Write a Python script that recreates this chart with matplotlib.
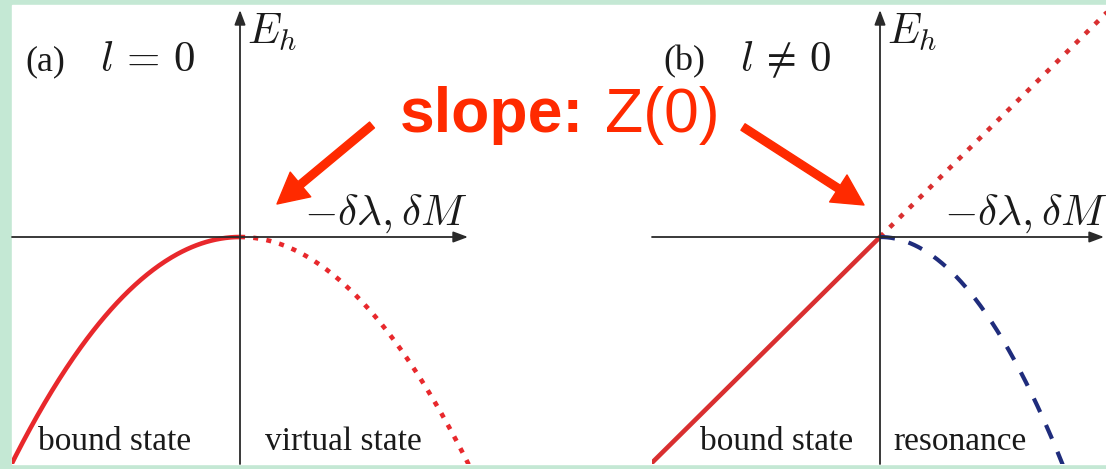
import numpy as np
import matplotlib.pyplot as plt
from matplotlib.patches import Rectangle

W, H = 1106, 469

# schematic curves, one unit = 100 px on the page
curv_l0 = 0.435        # E_h = -curv * x**2 for l = 0
slope_l1 = 0.99        # E_h = slope * x for l != 0
curv_res = 0.682       # resonance branch, E_h = -curv * x**2

panel_tags = ['(a)', '(b)']
panel_l = [r'$l\,=\,0$', r'$l\,\neq\,0$']
left_labels = ['bound state', 'bound state']
right_labels = ['virtual state', 'resonance']

red = '#e8282c'
red2 = '#d92f30'
navy = '#1f2c7c'
orange_red = '#ff2a00'
axis_col = '#2a2a2a'

plt.rcParams['mathtext.fontset'] = 'cm'

fig = plt.figure(figsize=(W / 100, H / 100), dpi=100, facecolor='#c4e8d4')
fig.patches.append(Rectangle((12 / W, (H - 464) / H), (W - 12) / W, (464 - 5) / H,
                             transform=fig.transFigure, color='white', zorder=-10))


def fx(px):
    return px / W


def fy(py):
    return 1 - py / H


def make_panel(left_px, right_px, origin_px):
    ax = fig.add_axes([fx(left_px), fy(464), (right_px - left_px) / W, (464 - 5) / H])
    ax.set_xlim((left_px - origin_px) / 100, (right_px - origin_px) / 100)
    ax.set_ylim(-2.27, 2.32)
    ax.axis('off')
    ax.patch.set_visible(False)
    return ax


def draw_axes(ax, x0, x1):
    ap = dict(arrowstyle='-|>,head_length=0.8,head_width=0.3', mutation_scale=11,
              lw=1.3, color=axis_col, shrinkA=0, shrinkB=0)
    ax.annotate('', xy=(x1, 0), xytext=(x0, 0), arrowprops=ap)
    ax.annotate('', xy=(0, 2.27), xytext=(0, -2.27), arrowprops=ap)
    ax.text(0.07, 1.93, r'$E_h$', fontsize=31, color='#1a1a1a')
    ax.text(0.64, 0.12, r'$-\delta\lambda,\delta M$', fontsize=31, color='#1a1a1a')


serif = 'Liberation Serif'

# (a) l = 0
axa = make_panel(12, 480, 240)
draw_axes(axa, -2.28, 2.28)
xs = np.linspace(-2.4, 0, 200)
axa.plot(xs, -curv_l0 * xs**2, color=red, lw=3.3, solid_capstyle='butt')
xs = np.linspace(0, 2.45, 200)
axa.plot(xs, -curv_l0 * xs**2, color=red, lw=3.3, linestyle=(0, (1.1, 1.8)))
axa.text(-2.15, 1.67, panel_tags[0], fontsize=26, family=serif, color='#1a1a1a')
axa.text(-1.40, 1.66, panel_l[0], fontsize=31, color='#1a1a1a')
axa.text(-2.02, -2.13, left_labels[0], fontsize=24, family=serif, color='#1a1a1a')
axa.text(0.25, -2.13, right_labels[0], fontsize=24, family=serif, color='#1a1a1a')

# (b) l != 0
axb = make_panel(652, 1106, 880)
draw_axes(axb, -2.28, 2.24)
xs = np.array([-2.35, 0])
axb.plot(xs, slope_l1 * xs, color=red2, lw=3.3, solid_capstyle='butt')
xs = np.array([0, 2.35])
axb.plot(xs, slope_l1 * xs, color=red2, lw=3.3, linestyle=(0, (1.1, 1.9)))
xs = np.linspace(0, 1.9, 200)
axb.plot(xs, -curv_res * xs**2, color=navy, lw=3.0, linestyle=(0, (3.6, 3.4)))
axb.text(-2.17, 1.67, panel_tags[1], fontsize=26, family=serif, color='#1a1a1a')
axb.text(-1.40, 1.66, panel_l[1], fontsize=31, color='#1a1a1a')
axb.text(-1.80, -2.13, left_labels[1], fontsize=24, family=serif, color='#1a1a1a')
axb.text(0.13, -2.13, right_labels[1], fontsize=24, family=serif, color='#1a1a1a')

# slope annotation
fig.text(fx(400), fy(132), 'slope:', fontsize=45, fontweight='bold',
         family='Liberation Sans', color=orange_red)
fig.text(fx(605), fy(132), 'Z(0)', fontsize=45, family='Liberation Sans', color=orange_red)
arrow = dict(arrowstyle='simple,head_length=1.0,head_width=1.05,tail_width=0.25',
             mutation_scale=22, color=orange_red, shrinkA=0, shrinkB=0)
fig.add_artist(plt.Annotation('', xy=(fx(277), fy(204)), xytext=(fx(372), fy(125)),
                              xycoords='figure fraction', arrowprops=arrow))
fig.add_artist(plt.Annotation('', xy=(fx(864), fy(205)), xytext=(fx(743), fy(127)),
                              xycoords='figure fraction', arrowprops=arrow))

fig.savefig('out.png', dpi=100, facecolor=fig.get_facecolor())
